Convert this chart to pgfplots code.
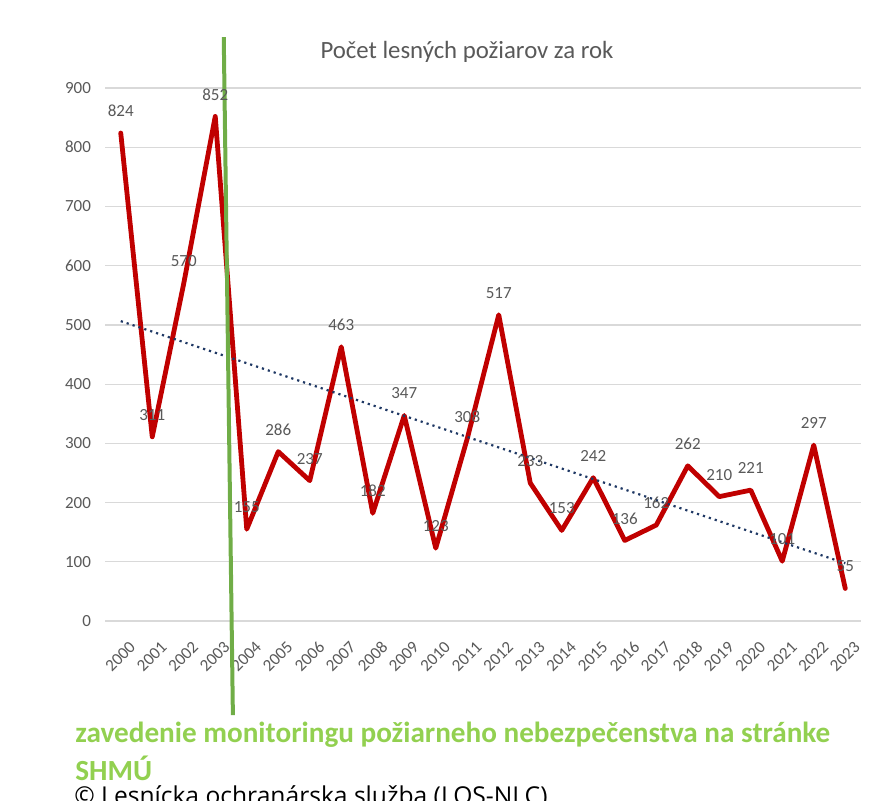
\documentclass[border=0pt]{standalone}
\usepackage{pgfplots}
\pgfplotsset{compat=1.18}
\usepackage{fontspec}
\setmainfont{Carlito}
\newfontfamily\copyfont{Open Sans}
\definecolor{txtgray}{RGB}{89,89,89}
\definecolor{gridgray}{RGB}{217,217,217}
\definecolor{darkred}{RGB}{192,0,0}
\definecolor{trendblue}{RGB}{31,56,100}
\definecolor{linegreen}{RGB}{112,173,71}
\definecolor{textgreen}{RGB}{146,208,80}
\pgfplotstableread{
x y
0 824
1 311
2 570
3 852
4 155
5 286
6 237
7 463
8 182
9 347
10 123
11 308
12 517
13 233
14 153
15 242
16 136
17 162
18 262
19 210
20 221
21 101
22 297
23 55
}\datatable
\begin{document}
\begin{tikzpicture}
\path[use as bounding box] (0,0) rectangle (438.5pt,-400.5pt);
\clip (0,0) rectangle (438.5pt,-400.5pt);
\begin{axis}[
  at={(52.5pt,-310.5pt)}, anchor=south west,
  scale only axis, width=378pt, height=266.5pt,
  xmin=-0.5, xmax=23.5, ymin=0, ymax=900,
  xtick={0,...,23},
  xticklabels={2000,2001,2002,2003,2004,2005,2006,2007,2008,2009,2010,2011,2012,2013,2014,2015,2016,2017,2018,2019,2020,2021,2022,2023},
  ytick={0,100,...,900},
  ymajorgrids, grid style={gridgray, line width=0.6pt},
  axis line style={draw=none},
  major tick length=0pt,
  tick label style={font=\fontsize{8.5}{10}\selectfont, color=txtgray},
  /pgf/number format/assume math mode=true,
  yticklabel style={xshift=-3.5pt},
  xticklabel style={rotate=45, anchor=north east, yshift=-6pt, xshift=-0.5pt},
  clip=false,
]
\addplot[darkred, line width=2.4pt, line join=round, line cap=round,
  nodes near coords,
  nodes near coords style={font=\fontsize{8.5}{10}\selectfont, color=txtgray, anchor=center, yshift=11pt}]
  table[x=x, y=y] {\datatable};
\addplot[trendblue, dotted, line width=1.1pt] coordinates {(0,506.4) (23,97.5)};
\addplot[linegreen, line width=2pt] coordinates {(3.27,986) (3.56,-159)};
\end{axis}
\node[font=\fontsize{12.4}{14}\selectfont, color=txtgray] at (233.5pt,-26pt) {Počet lesných požiarov za rok};
\node[font=\bfseries\fontsize{14.6}{17}\selectfont, color=textgreen, anchor=west, inner sep=0pt] at (37.5pt,-367.5pt) {zavedenie monitoringu požiarneho nebezpečenstva na stránke};
\node[font=\bfseries\fontsize{14.6}{17}\selectfont, color=textgreen, anchor=west, inner sep=0pt] at (37.5pt,-384pt) {SHMÚ};
\node[font=\copyfont\fontsize{12.3}{14}\selectfont, color=black, anchor=north west, inner sep=0pt] at (37pt,-392.5pt) {© Lesnícka ochranárska služba (LOS-NLC)};
\end{tikzpicture}
\end{document}
